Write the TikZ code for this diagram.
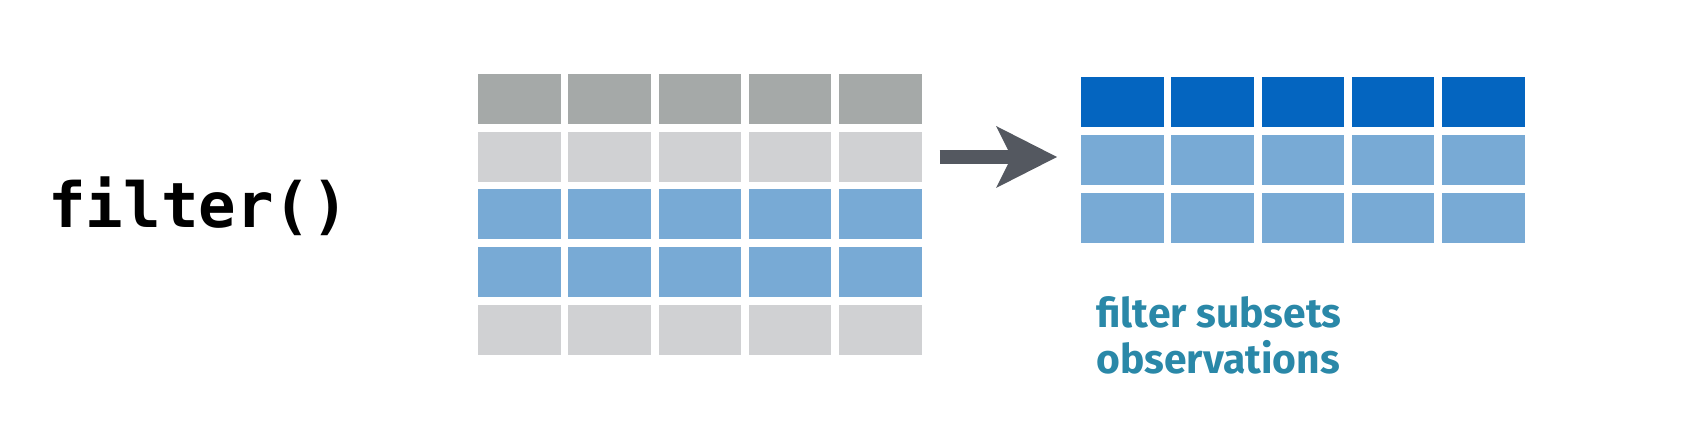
\documentclass[tikz,border=0pt]{standalone}
\usepackage{fontspec}
\usepackage{tikz}
\usetikzlibrary{arrows.meta}
\newfontfamily\codefont{DejaVu Sans Mono}
\newfontfamily\notefont{Fira Sans}
\definecolor{headgray}{HTML}{A5A9A8}
\definecolor{rowgray}{HTML}{D0D1D3}
\definecolor{rowblue}{HTML}{78AAD5}
\definecolor{headblue}{HTML}{0465C0}
\definecolor{arrowgray}{HTML}{545860}
\definecolor{noteteal}{HTML}{2A88A8}

\begin{document}
\begin{tikzpicture}[x=0.5pt,y=-0.5pt,
  cell/.style={inner sep=0pt, outer sep=0pt, minimum width=41.25pt, minimum height=25pt},
  flow/.style={line width=7pt, arrowgray,
    -{Stealth[length=30.5pt,width=31pt,inset=7.75pt,line width=0pt]}}]
\useasboundingbox (0,0) rectangle (1687,437);
\node[anchor=base west, inner sep=0pt,
  font=\codefont\bfseries\fontsize{31.2}{31.2}\selectfont] (fname) at (48,228) {filter()};
% input table
\foreach \c in {0,...,4} {
\node[cell, fill=headgray] (in-1-\c) at (519.25+90.25*\c, 99) {};
\node[cell, fill=rowgray] (in-2-\c) at (519.25+90.25*\c, 156.75) {};
\node[cell, fill=rowblue] (in-3-\c) at (519.25+90.25*\c, 214.5) {};
\node[cell, fill=rowblue] (in-4-\c) at (519.25+90.25*\c, 272.25) {};
\node[cell, fill=rowgray] (in-5-\c) at (519.25+90.25*\c, 330) {};
}
% output table
\foreach \c in {0,...,4} {
\node[cell, fill=headblue] (out-1-\c) at (1122.25+90.25*\c, 102.5) {};
\node[cell, fill=rowblue] (out-2-\c) at (1122.25+90.25*\c, 160.5) {};
\node[cell, fill=rowblue] (out-3-\c) at (1122.25+90.25*\c, 218.5) {};
}
\draw[flow, shorten <=9pt, shorten >=12pt]
  ([yshift=1.75pt]in-2-4.east |- out-2-0.west) -- ([yshift=1.75pt]out-2-0.west);
\node[anchor=north west, inner sep=0pt, align=left, text=noteteal,
  font=\notefont\bfseries\fontsize{20.4}{23}\selectfont] (note) at (1096,296)
{filter subsets\\
observations};
\end{tikzpicture}
\end{document}
